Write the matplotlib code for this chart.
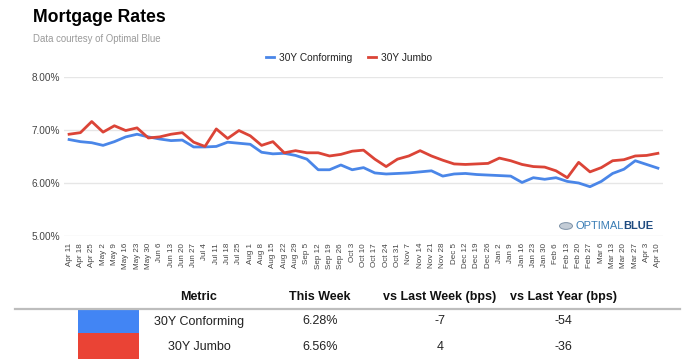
import matplotlib
matplotlib.use("Agg")
import matplotlib.pyplot as plt
from matplotlib.patches import Rectangle, Circle
from matplotlib.lines import Line2D

plt.rcParams['font.family'] = ['Liberation Sans', 'DejaVu Sans']

dates = ["Apr 11", "Apr 18", "Apr 25", "May 2", "May 9", "May 16", "May 23", "May 30",
         "Jun 6", "Jun 13", "Jun 20", "Jun 27", "Jul 4", "Jul 11", "Jul 18", "Jul 25",
         "Aug 1", "Aug 8", "Aug 15", "Aug 22", "Aug 29", "Sep 5", "Sep 12", "Sep 19",
         "Sep 26", "Oct 3", "Oct 10", "Oct 17", "Oct 24", "Oct 31", "Nov 7", "Nov 14",
         "Nov 21", "Nov 28", "Dec 5", "Dec 12", "Dec 19", "Dec 26", "Jan 2", "Jan 9",
         "Jan 16", "Jan 23", "Jan 30", "Feb 6", "Feb 13", "Feb 20", "Feb 27", "Mar 6",
         "Mar 13", "Mar 20", "Mar 27", "Apr 3", "Apr 10"]

conforming = [6.82, 6.78, 6.76, 6.71, 6.78, 6.87, 6.92, 6.87, 6.83, 6.80, 6.81, 6.68,
              6.68, 6.69, 6.77, 6.75, 6.73, 6.58, 6.55, 6.56, 6.52, 6.45, 6.25, 6.25,
              6.34, 6.25, 6.29, 6.19, 6.17, 6.18, 6.19, 6.21, 6.23, 6.13, 6.17, 6.18,
              6.16, 6.15, 6.14, 6.13, 6.01, 6.10, 6.07, 6.10, 6.03, 6.00, 5.93, 6.03,
              6.18, 6.26, 6.42, 6.35, 6.28]

jumbo = [6.92, 6.95, 7.16, 6.96, 7.08, 6.99, 7.04, 6.85, 6.87, 6.92, 6.95, 6.77,
         6.69, 7.02, 6.84, 6.99, 6.89, 6.71, 6.78, 6.57, 6.61, 6.57, 6.57, 6.51,
         6.54, 6.60, 6.62, 6.45, 6.31, 6.45, 6.51, 6.61, 6.51, 6.43, 6.36, 6.35,
         6.36, 6.37, 6.47, 6.42, 6.35, 6.31, 6.30, 6.23, 6.10, 6.39, 6.21, 6.29,
         6.42, 6.44, 6.51, 6.52, 6.56]

yticks = [5.0, 6.0, 7.0, 8.0]

table_header = ["Metric", "This Week", "vs Last Week (bps)", "vs Last Year (bps)"]
table_rows = [["30Y Conforming", "6.28%", "-7", "-54"],
              ["30Y Jumbo", "6.56%", "4", "-36"]]

line_blue = "#4a86e8"
line_red = "#db4437"
sw_blue = "#4285f4"
sw_red = "#ea4335"

W, H = 691, 359
fig = plt.figure(figsize=(W / 100, H / 100), dpi=100)
fig.patch.set_facecolor("white")

def fx(x):
    return x / W

def fy(y):
    return 1 - y / H

ax = fig.add_axes([fx(64), fy(236), fx(663) - fx(64), fy(77) - fy(236)])
x = list(range(len(dates)))
ax.plot(x, conforming, color=line_blue, lw=2.0, label="30Y Conforming", solid_joinstyle="round")
ax.plot(x, jumbo, color=line_red, lw=2.0, label="30Y Jumbo", solid_joinstyle="round")
ax.set_xlim(-0.45, len(dates) - 1 + 0.45)
ax.set_ylim(5.0, 8.0)
ax.set_yticks(yticks)
ax.set_yticklabels([f"{v:.2f}%" for v in yticks], fontsize=7.2, color="#444444")
ax.set_xticks(x)
ax.set_xticklabels(dates, rotation=90, fontsize=5.8, color="#444444")
ax.tick_params(axis="both", length=0)
ax.tick_params(axis="y", pad=3)
ax.tick_params(axis="x", pad=5)
for s in ax.spines.values():
    s.set_visible(False)
ax.grid(axis="y", color="#e6e6e6", lw=1)
ax.set_axisbelow(True)

leg = ax.legend(loc="center", bbox_to_anchor=(fx(349), fy(58)), bbox_transform=fig.transFigure,
                ncol=2, frameon=False, fontsize=7.3, handlelength=0.8, handletextpad=0.5,
                columnspacing=1.5)
for t in leg.get_texts():
    t.set_color("#222222")

# Title and subtitle
fig.text(fx(33), fy(18), "Mortgage Rates", fontsize=12.7, fontweight="bold", color="#000000",
         ha="left", va="center")
fig.text(fx(33), fy(39), "Data courtesy of Optimal Blue", fontsize=6.9, color="#9a9a9a",
         ha="left", va="center")

# Logo
fig.patches.append(Circle((fx(566), fy(226)), 6.5 / W, transform=fig.transFigure,
                          facecolor="#c3ccd6", edgecolor="#7f93a8", lw=0.7))
t1 = fig.text(fx(575), fy(226), "OPTIMAL", fontsize=8, color="#3a7db5", ha="left", va="center")
fig.canvas.draw()
bb = t1.get_window_extent()
fig.text(bb.x1 / W, fy(226), "BLUE", fontsize=8, color="#1e4b80", fontweight="bold",
         ha="left", va="center")

# Table
col_x = [199, 320, 440, 563]
for cx, h in zip(col_x, table_header):
    fig.text(fx(cx), fy(297), h, fontsize=9, fontweight="bold", color="#111111",
             ha="center", va="center")
fig.add_artist(Line2D([fx(15), fx(680)], [fy(309), fy(309)], color="#bdbdbd", lw=1.6))
row_y = [321.5, 346.5]
row_colors = [sw_blue, sw_red]
tops = [309, 333]
bots = [333, 359]
for ry, row, col, tp, bt in zip(row_y, table_rows, row_colors, tops, bots):
    fig.patches.append(Rectangle((fx(78), fy(bt)), fx(139) - fx(78), fy(tp) - fy(bt),
                                 transform=fig.transFigure, facecolor=col, edgecolor="none"))
    for cx, v in zip(col_x, row):
        fig.text(fx(cx), fy(ry), v, fontsize=9, color="#222222", ha="center", va="center")

fig.savefig("out.png", dpi=100, facecolor="white")
